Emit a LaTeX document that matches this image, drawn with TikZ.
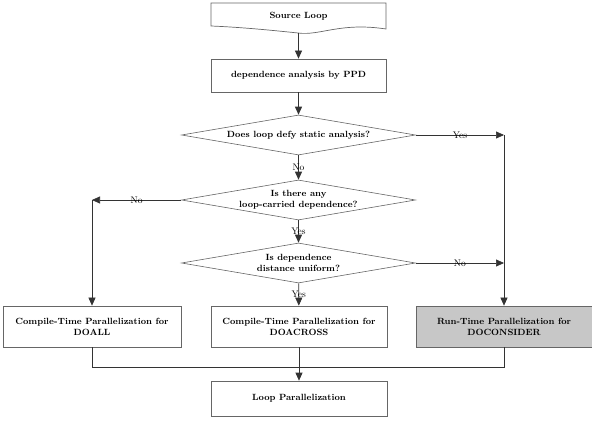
\documentclass[tikz,border=0pt]{standalone}
\usepackage{tikz}
\usetikzlibrary{arrows.meta,shapes.geometric,positioning,calc}

\begin{document}
\begin{tikzpicture}[
      x=1pt,y=-1pt,
      process/.style={rectangle,draw=black!60,fill=white,line width=0.7pt,
                      minimum width=176pt,minimum height=41pt,align=center,
                      font=\fontsize{9}{11}\selectfont\bfseries},
      decision/.style={diamond,draw=black!60,line width=0.6pt,aspect=6,inner sep=0pt,
                       minimum width=234pt,minimum height=40pt,align=center,
                       font=\fontsize{9}{11}\selectfont\bfseries},
      answer/.style={font=\fontsize{9.5}{10}\selectfont},
      arrow/.style={-{Triangle[length=8pt,width=7pt]},line width=0.7pt,draw=black!80},
      line/.style={line width=0.7pt,draw=black!80}
    ]
    \useasboundingbox (0,0) rectangle (592,422);

    % Source
    \draw[black!60,line width=0.7pt] (211,3) -- (386,3) -- (386,29)
      .. controls (340,22) and (320,36) .. (298,33)
      .. controls (260,29) and (235,27) .. (211,26) -- cycle;
    \node[minimum width=175pt,minimum height=26pt,font=\fontsize{9}{11}\selectfont\bfseries]
      (src) at (298.5,16) {Source Loop};

    % Analysis
    \node[process,minimum width=175pt,minimum height=33pt] (dep) at (298.5,75.5)
      {dependence analysis by PPD};

    % Decisions
    \node[decision] (d1) at (298.5,135) {Does loop defy static analysis?};
    \node[decision] (d2) at (298.5,200) {Is there any\\loop-carried dependence?};
    \node[decision] (d3) at (298.5,263) {Is dependence\\distance uniform?};

    % Parallelization
    \node[process,minimum width=178pt] (doall) at (92,326.5)
      {Compile-Time Parallelization for\\DOALL};
    \node[process] (doacross) at (299,326.5)
      {Compile-Time Parallelization for\\DOACROSS};
    \node[process,fill=black!22] (doconsider) at (504,326.5)
      {Run-Time Parallelization for\\DOCONSIDER};
    \node[process,minimum height=35pt] (loop) at (299,398.5) {Loop Parallelization};

    % Bends
    \coordinate (cL) at (92,200);
    \coordinate (cR1) at (504,135);
    \coordinate (cR3) at (504,263);
    \coordinate (merge) at (299,367);

    % Main flow
    \draw[arrow] ($(src.south)+(0,4)$) -- (dep);
    \draw[arrow] (dep) -- (d1);
    \draw[arrow] (d1) -- node[answer] {No} (d2);
    \draw[arrow] (d2) -- node[answer] {Yes} (d3);
    \draw[arrow] (d3) -- node[answer] {Yes} (doacross);

    % Side branches
    \draw[arrow] (d2.west) -- node[answer] {No} (cL);
    \draw[arrow] (cL) -- (doall);
    \draw[arrow] (d1.east) -- node[answer] {Yes} (cR1);
    \draw[arrow] (d3.east) -- node[answer] {No} (cR3);
    \draw[arrow] (cR1) -- (doconsider);

    % Join
    \draw[line] (doall.south) -- (doall.south |- merge) -- (doconsider.south |- merge)
      -- (doconsider.south);
    \draw[arrow] (doacross) -- (loop);

  \end{tikzpicture}
\end{document}
